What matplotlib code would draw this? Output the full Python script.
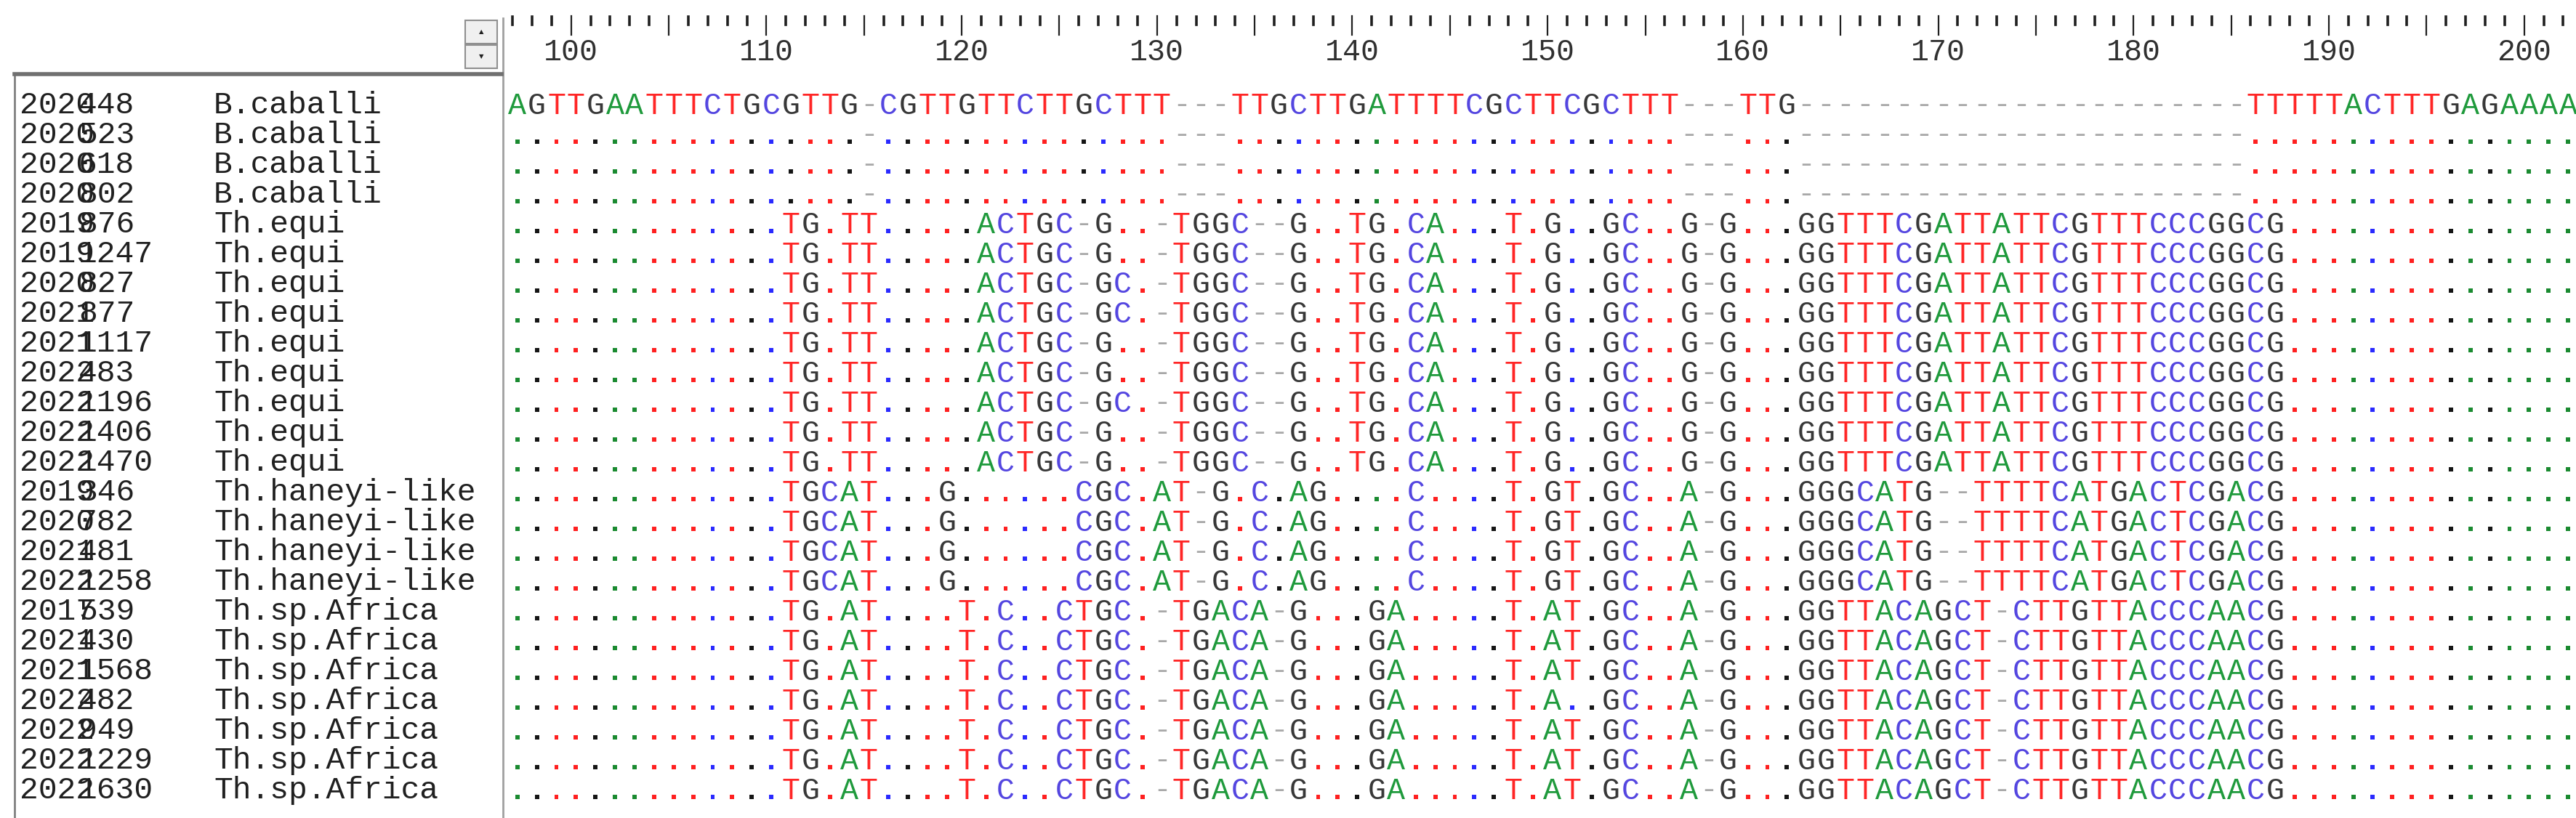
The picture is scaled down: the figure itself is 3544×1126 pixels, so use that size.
import numpy as np
import matplotlib
matplotlib.use("Agg")
import matplotlib.pyplot as plt
from matplotlib import patches

# sample labels
years = [2020, 2020, 2020, 2020, 2019, 2019, 2020, 2021, 2021, 2022, 2022, 2022, 2022,
         2019, 2020, 2021, 2022, 2017, 2021, 2021, 2022, 2022, 2022, 2022]
ids = [448, 523, 618, 802, 876, 1247, 827, 877, 1117, 483, 1196, 1406, 1470,
       346, 782, 481, 1258, 539, 430, 1568, 482, 949, 1229, 1630]
species = ["B.caballi"] * 4 + ["Th.equi"] * 9 + ["Th.haneyi-like"] * 4 + ["Th.sp.Africa"] * 7

# alignment columns 98..203, first row is the reference
first_pos = 98
seq_ref = ("AGTTGAATTTCTGCGTTG-CGTTGTTCTTGCTTT---TTGCTTGATTTTCGCTTCGCTTT---TTG"
           "-----------------------TTTTTACTTTGAGAAAA")
seq_cab = ("..................-...............---.......................---..."
           "-----------------------.................")
seq_equi = ("..............TG.TT.....ACTGC-G..-TGGC--G..TG.CA...T.G..GC..G-G..."
            "GGTTTCGATTATTCGTTTCCCGGCG...............")
seq_equi_gc = ("..............TG.TT.....ACTGC-GC.-TGGC--G..TG.CA...T.G..GC..G-G..."
               "GGTTTCGATTATTCGTTTCCCGGCG...............")
seq_haneyi = ("..............TGCAT...G......CGC.AT-G.C.AG....C....T.GT.GC..A-G..."
              "GGGCATG--TTTTCATGACTCGACG...............")
seq_africa = ("..............TG.AT....T.C..CTGC.-TGACA-G...GA.....T.AT.GC..A-G..."
              "GGTTACAGCT-CTTGTTACCCAACG...............")
seq_africa_482 = ("..............TG.AT....T.C..CTGC.-TGACA-G...GA.....T.A..GC..A-G..."
                  "GGTTACAGCT-CTTGTTACCCAACG...............")

rows = [seq_ref, seq_cab, seq_cab, seq_cab,
        seq_equi, seq_equi, seq_equi_gc, seq_equi_gc, seq_equi, seq_equi, seq_equi_gc, seq_equi, seq_equi,
        seq_haneyi, seq_haneyi, seq_haneyi, seq_haneyi,
        seq_africa, seq_africa, seq_africa, seq_africa_482, seq_africa, seq_africa, seq_africa]

base_col = {"A": "#1f9a3c", "T": "#ff2626", "C": "#5446e0", "G": "#383838"}
dot_col = {"A": "#1a8a30", "T": "#ff2020", "C": "#2a2aff", "G": "#151515"}

W, H = 3544, 1126
fig = plt.figure(figsize=(W / 100, H / 100), dpi=100)
fig.patch.set_facecolor("white")
mono = "Liberation Mono"
fs = 30
fs_name = 31


def px_axes(x0, y0, x1, y1):
    return fig.add_axes([x0 / W, 1 - y1 / H, (x1 - x0) / W, (y1 - y0) / H])


col_w = 26.87
row_h = 41.0
row0 = 145
n_rows = len(rows)
n_cols = len(seq_ref)
top = 102

# alignment panel
ax = px_axes(697, top, W, H)
x_lo = first_pos - 0.5 - 0.05
ax.set_xlim(x_lo, x_lo + (W - 697) / col_w)
y_top = -(row0 - top) / row_h
ax.set_ylim(y_top + (H - top) / row_h, y_top)
ax.axis("off")

dx, dy, dc = [], [], []
for r, s in enumerate(rows):
    for i, ch in enumerate(s):
        p = first_pos + i
        if ch == ".":
            dx.append(p)
            dy.append(r + 0.22)
            dc.append(dot_col[seq_ref[i]])
        elif ch == "-":
            ax.text(p, r, "-", color="#a8a8a8", family=mono, fontsize=fs,
                    ha="center", va="center")
        else:
            ax.text(p, r + 0.02, ch, color=base_col[ch], family=mono, fontsize=fs,
                    ha="center", va="center")
ax.scatter(dx, dy, c=dc, marker="s", s=18, linewidths=0)

# ruler
axr = px_axes(697, 0, W, top)
axr.set_xlim(ax.get_xlim())
axr.set_ylim(top, 0)
axr.axis("off")
for p in range(first_pos - 1, first_pos + n_cols):
    xp = p + 0.75
    if p % 5 == 0:
        axr.plot([xp, xp], [22, 48], color="#202020", lw=1.6)
    else:
        axr.plot([xp, xp], [23, 34], color="#202020", lw=2.6)
    if p % 10 == 0:
        axr.text(xp, 72, str(p), family=mono, fontsize=fs, color="#303030",
                 ha="center", va="center")

# names panel
axn = px_axes(0, 0, 697, H)
axn.set_xlim(0, 697)
axn.set_ylim(H, 0)
axn.axis("off")
axn.plot([20, 20], [top, H], color="#808080", lw=2)
axn.plot([692, 692], [25, H], color="#a0a0a0", lw=2)
axn.plot([20, 690], [top, top], color="#707070", lw=4)
for yb, sym in [(28, "\u25b2"), (62, "\u25bc")]:
    axn.add_patch(patches.Rectangle((640, yb), 44, 32, facecolor="#f0f0f0",
                                    edgecolor="#909090", lw=1.5))
    axn.text(662, yb + 16, sym, fontsize=6, ha="center", va="center", color="#202020")
for r in range(n_rows):
    y = row0 + r * row_h
    axn.text(27, y, str(years[r]), family=mono, fontsize=fs_name, color="#202020", va="center")
    axn.text(108, y, str(ids[r]), family=mono, fontsize=fs_name, color="#202020", va="center")
    axn.text(294, y, species[r], family=mono, fontsize=fs_name, color="#202020", va="center")

fig.savefig("out.png", dpi=100, facecolor="white")
